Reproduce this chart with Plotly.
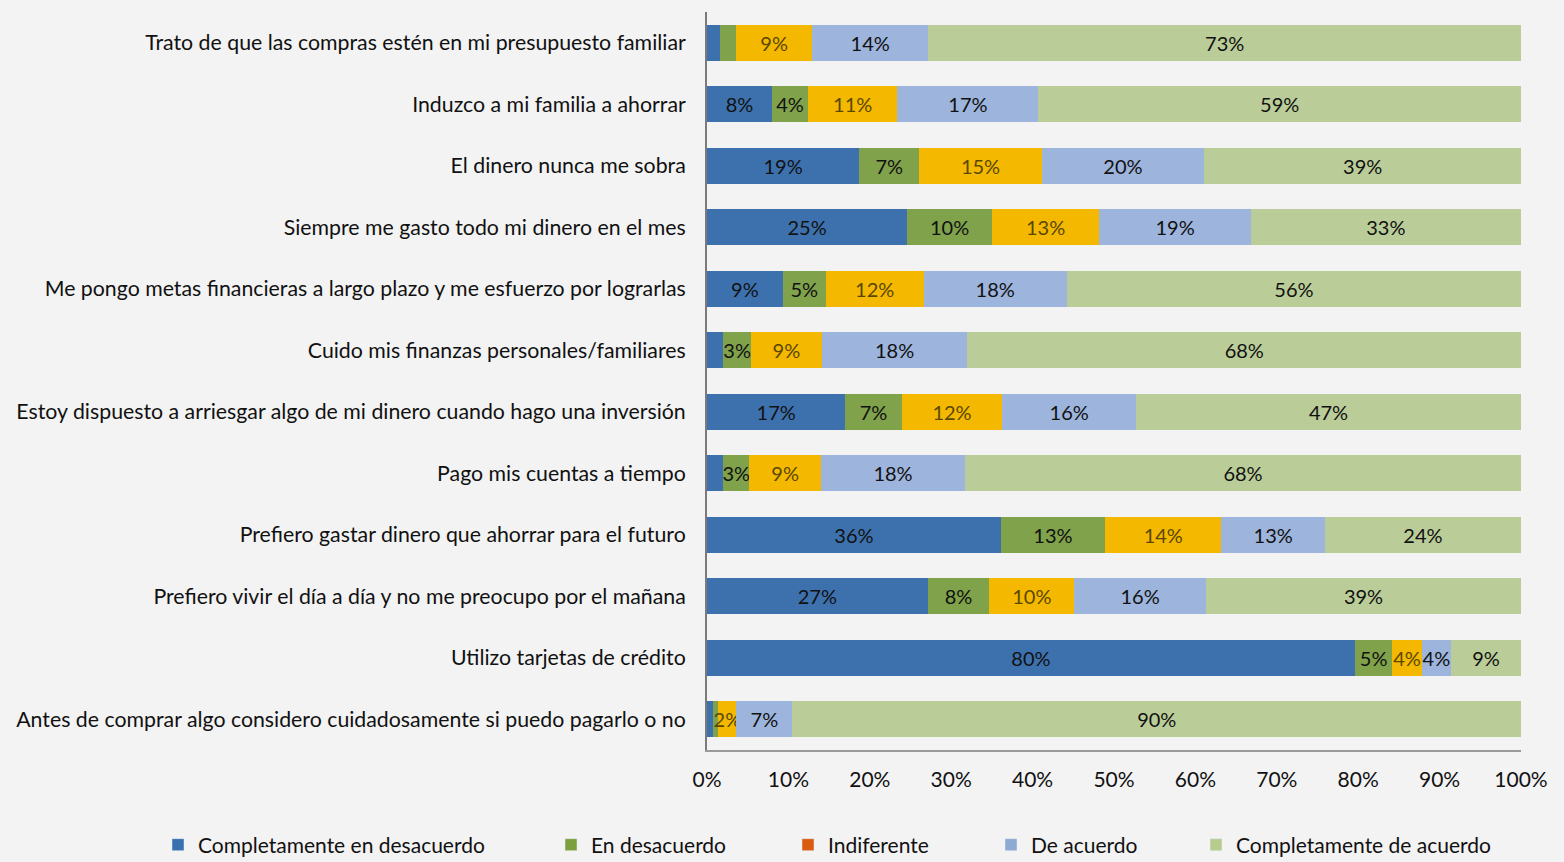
import plotly.graph_objects as go

# rows, top to bottom
categories = [
    "Trato de que las compras estén en mi presupuesto familiar",
    "Induzco a mi familia a ahorrar",
    "El dinero nunca me sobra",
    "Siempre me gasto todo mi dinero en el mes",
    "Me pongo metas financieras a largo plazo y me esfuerzo por lograrlas",
    "Cuido mis finanzas personales/familiares",
    "Estoy dispuesto a arriesgar algo de mi dinero cuando hago una inversión",
    "Pago mis cuentas a tiempo",
    "Prefiero gastar dinero que ahorrar para el futuro",
    "Prefiero vivir el día a día y no me preocupo por el mañana",
    "Utilizo tarjetas de crédito",
    "Antes de comprar algo considero cuidadosamente si puedo pagarlo o no",
]

completamente_desacuerdo = [1.6, 8.0, 18.7, 24.6, 9.3, 2.0, 17.0, 2.0, 36.1, 27.1, 79.6, 0.7]
en_desacuerdo = [2.0, 4.4, 7.4, 10.4, 5.3, 3.4, 6.9, 3.2, 12.8, 7.6, 4.6, 0.7]
indiferente = [9.3, 11.0, 15.0, 13.2, 12.0, 8.7, 12.4, 8.8, 14.3, 10.4, 3.6, 2.2]
de_acuerdo = [14.3, 17.3, 20.0, 18.6, 17.6, 17.9, 16.4, 17.7, 12.7, 16.2, 3.6, 6.9]
completamente_acuerdo = [72.8, 59.3, 38.9, 33.2, 55.8, 68.0, 47.3, 68.3, 24.1, 38.7, 8.6, 89.5]

x_ticks = [0, 10, 20, 30, 40, 50, 60, 70, 80, 90, 100]
x_tick_labels = ["0%", "10%", "20%", "30%", "40%", "50%", "60%", "70%", "80%", "90%", "100%"]

LABEL_MIN = 2.1  # smaller segments carry no label
FONT = "Lato"


def labels(values):
    return [f"{round(v)}%" if v > LABEL_MIN else "" for v in values]


series = [
    ("Completamente en desacuerdo", completamente_desacuerdo, "#3d71ae", "#3a6fb0", "#111111"),
    ("En desacuerdo", en_desacuerdo, "#7fa24b", "#7da03e", "#111111"),
    ("Indiferente", indiferente, "#f5b800", "#d95b10", "#5a4800"),
    ("De acuerdo", de_acuerdo, "#9db4dc", "#8ea9d3", "#111111"),
    ("Completamente de acuerdo", completamente_acuerdo, "#bacd98", "#b5cc8e", "#111111"),
]

# text start (px) of each legend entry
legend_px = [198, 591, 828, 1031, 1236]

L, R, T, B = 707, 43, 12, 112
W, H = 1564, 862

fig = go.Figure()
for i, (name, vals, bar_col, leg_col, txt_col) in enumerate(series):
    lg = "legend" if i == 0 else f"legend{i + 1}"
    fig.add_trace(go.Bar(
        y=categories, x=vals, orientation="h", name=name,
        marker=dict(color=bar_col, line=dict(width=0)),
        text=labels(vals), textposition="inside", insidetextanchor="middle",
        textangle=0, textfont=dict(color=txt_col, size=20, family=FONT),
        showlegend=False, hoverinfo="x+y",
    ))
    # legend-only entry (Excel legend colour differs for "Indiferente")
    fig.add_trace(go.Bar(
        y=[None], x=[None], orientation="h", name=name,
        marker=dict(color=leg_col), legend=lg, showlegend=True,
    ))
    fig.update_layout({lg: dict(
        xref="container", yref="container",
        x=(legend_px[i] - 40) / W, xanchor="left",
        y=1 - 845 / H, yanchor="middle",
        orientation="h", bgcolor="rgba(0,0,0,0)",
        font=dict(family=FONT, size=21, color="#111111"),
        itemwidth=30,
    )})

fig.update_layout(
    barmode="stack",
    bargap=0.42,
    width=W, height=H,
    margin=dict(l=L, r=R, t=T, b=B, autoexpand=False),
    paper_bgcolor="#f3f3f3",
    plot_bgcolor="rgba(0,0,0,0)",
    font=dict(family=FONT, color="#111111"),
    uniformtext=dict(mode="show", minsize=20),
    xaxis=dict(
        range=[0, 100], tickvals=x_ticks, ticktext=x_tick_labels,
        showgrid=False, zeroline=False, automargin=False,
        showline=True, linecolor="#9a9a9a", linewidth=2,
        ticks="", ticklabelstandoff=10,
        tickfont=dict(size=21, family=FONT, color="#111111"),
    ),
    yaxis=dict(
        autorange="reversed", showgrid=False, zeroline=False, automargin=False,
        showline=True, linecolor="#7a7a7a", linewidth=2,
        ticks="", ticklabelstandoff=15,
        tickfont=dict(size=21.3, family=FONT, color="#111111"),
    ),
)

fig.write_html(
    "out.html",
    config={"displayModeBar": False},
    post_script="document.body.style.margin='0';",
)
